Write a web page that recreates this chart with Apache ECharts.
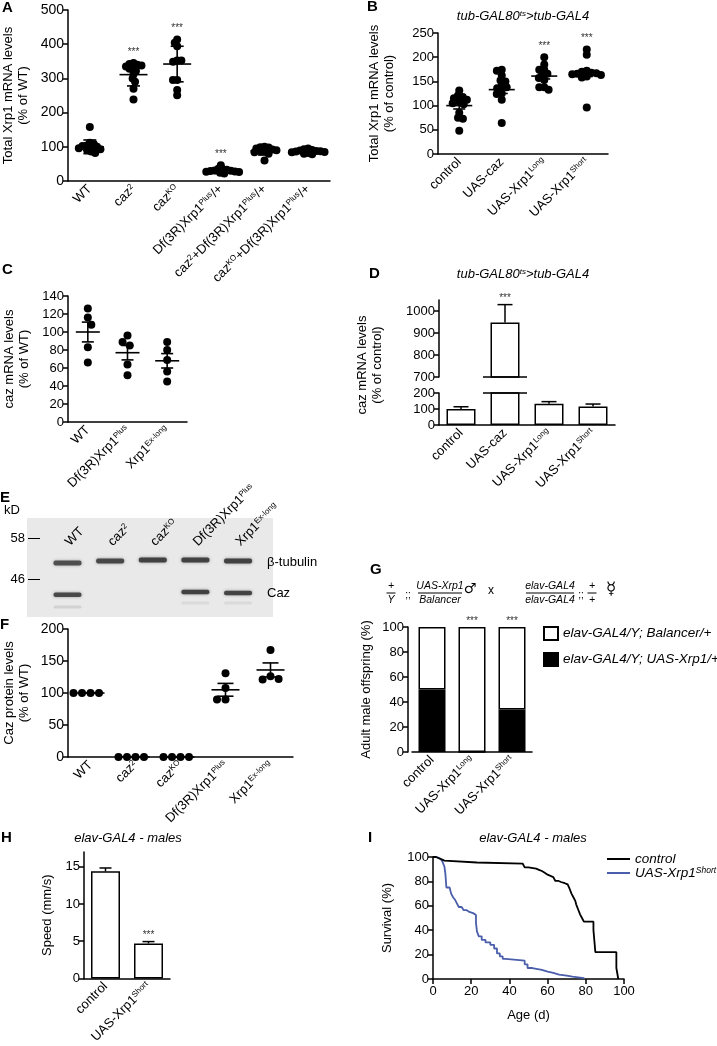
<!DOCTYPE html>
<html>
<head>
<meta charset="utf-8">
<script src="https://cdn.jsdelivr.net/npm/echarts@6.0.0/dist/echarts.min.js"></script>
<style>
html,body{margin:0;padding:0;background:#fff;}
#chart{width:717px;height:1046px;}
</style>
</head>
<body>
<div id="chart"></div>
<script>
// ===================== DATA =====================
// Panel A
const aCategories = ['WT','caz{s|2}','caz{s|KO}','Df(3R)Xrp1{s|Plus}/+','caz{s|2}+Df(3R)Xrp1{s|Plus}/+','caz{s|KO}+Df(3R)Xrp1{s|Plus}/+'];
const aValues = [
  [158,112,108,104,102,100,98,96,93,90,86,82],
  [345,342,340,338,335,332,328,322,312,300,290,270,238],
  [414,404,394,352,352,349,295,295,266,251],
  [46,36,34,33,31,30,29,28,27,26,24,22],
  [100,99,98,95,92,90,88,86,84,80,60],
  [95,93,91,89,88,87,86,85,84,82,80,78]
];
const aMean = [100,311,342,30,88,85];
const aError = [20,33,52,8,12,7];
const aSignificance = ['','***','***','***','',''];
const aTicks = [0,100,200,300,400,500];

// Panel B
const bCategories = ['control','UAS-caz','UAS-Xrp1{s|Long}','UAS-Xrp1{s|Short}'];
const bValues = [
  [131,121,118,115,112,108,105,103,85,75,73,48],
  [174,172,162,152,150,140,138,136,125,124,112,64],
  [200,185,174,174,166,164,157,153,138,138,133],
  [216,205,172,170,168,167,166,165,163,160,158,96]
];
const bMean = [100,133,161,167];
const bError = [7,8,6,7];
const bSignificance = ['','','***','***'];
const bTicks = [0,50,100,150,200,250];

// Panel C
const cCategories = ['WT','Df(3R)Xrp1{s|Plus}','Xrp1{s|Ex-long}'];
const cValues = [[126,116,108,83,66],[96,89,85,64,52],[89,80,69,56,45]];
const cMean = [100,77,68];
const cError = [11,8,8];
const cSignificance = ['','',''];
const cTicks = [0,20,40,60,80,100,120,140];

// Panel D
const dCategories = ['control','UAS-caz','UAS-Xrp1{s|Long}','UAS-Xrp1{s|Short}'];
const dMean = [100,948,133,116];
const dError = [14,81,13,15];
const dSignificance = ['','***','',''];
const dTicksLow = [0,100,200];
const dTicksHigh = [700,800,900,1000];

// Panel E (western blot)
const eLanes = ['WT','caz{s|2}','caz{s|KO}','Df(3R)Xrp1{s|Plus}','Xrp1{s|Ex-long}'];
const eMarkersKD = [46,58];
const eTubulinKD = [50.7,51.3,51.6,51.6,51.3];
const eTubulinIntensity = [0.8,0.85,0.9,0.9,0.9];
const eCazKD = [41.4,null,null,42.2,41.9];
const eCazIntensity = [0.85,0,0,0.9,0.88];
const eFaintKD = [37.8,null,null,39.0,39.0];
const eFaintIntensity = [0.12,0,0,0.08,0.08];

// Panel F
const fCategories = ['WT','caz{s|2}','caz{s|KO}','Df(3R)Xrp1{s|Plus}','Xrp1{s|Ex-long}'];
const fValues = [[100,100,100,100],[0,0,0,0],[0,0,0,0],[131,108,90,90],[167,126,122,121]];
const fMean = [100,0,0,105,136];
const fError = [0,0,0,10,11];
const fSignificance = ['','','','',''];
const fTicks = [0,50,100,150,200];

// Panel G
const gCategories = ['control','UAS-Xrp1{s|Long}','UAS-Xrp1{s|Short}'];
const gXrp1Percent = [50,0,34];
const gSignificance = ['','***','***'];
const gTicks = [0,20,40,60,80,100];

// Panel H
const hCategories = ['control','UAS-Xrp1{s|Short}'];
const hMean = [14.4,4.7];
const hError = [0.45,0.25];
const hSignificance = ['','***'];
const hTicks = [0,5,10,15];

// Panel I (survival, [day, % alive])
const iControl = [[0,100],[1.5,99],[3,98],[4.5,97],[6,96],[7,95.5],[23,94.5],[47,93],[48,91.5],[50,90.5],[54,89.5],[55.5,88.5],[57,87],[58.5,85.5],[60,84.5],[61.5,83.5],[63,82],[64,80.5],[65.5,79.5],[67,78.5],[69,77.5],[70.5,76],[71.5,74],[72,72],[72.5,70],[73.5,67],[74.5,64],[75,61],[76,57],[77,53],[78,50],[79,47],[84,40],[85,22],[96,9],[97,0]];
const iXrp1Short = [[0,100],[2,98.5],[4,97],[5,96],[6,92],[6.5,86],[7,75],[8.7,74],[9.5,70],[10.5,67],[11.5,65],[12.5,62],[13.5,59],[15,58],[16,56.5],[17.5,55],[19,54],[21,52.5],[22.5,46],[23,39],[24,35],[25.5,32],[27.5,30],[30,28],[32,25],[33.5,21],[35,18.5],[36.5,16.5],[38,15],[48,12],[49.5,9],[52,7.5],[57,6],[60,5],[63,3.5],[66,2.7],[70,2],[73,1.4],[76,0.8],[79,0]];
const iTicks = [0,20,40,60,80,100];

// ===================== BUILD =====================
const FONT = "'Liberation Sans', Arial, Helvetica, sans-serif";
const BLACK = '#000';
const BLUE = '#4a5eab';
const RICH = { s: { fontSize: 8, verticalAlign: 'top', fontFamily: FONT, color: BLACK } };
const RICH_IT = { s: { fontSize: 8, verticalAlign: 'top', fontFamily: FONT, color: BLACK, fontStyle: 'italic' } };

const grids = [], xAxes = [], yAxes = [], series = [];

const AXL = { show: true, onZero: false, lineStyle: { color: BLACK, width: 1.5 } };
const plainNum = v => String(v);
function yAx(gi, min, max, ticks, name, gap, extra, fs) {
  return Object.assign({
    type: 'value', gridIndex: gi, min: min, max: max,
    axisLine: AXL,
    axisTick: { show: true, length: 5, customValues: ticks, lineStyle: { color: BLACK, width: 1.5 } },
    axisLabel: { customValues: ticks, formatter: plainNum, color: BLACK, fontSize: fs || 13, margin: 4, fontFamily: FONT },
    splitLine: { show: false },
    name: name, nameLocation: 'middle', nameGap: gap, nameRotate: 90,
    nameTextStyle: { color: BLACK, fontSize: 13, fontFamily: FONT, lineHeight: 15 }
  }, extra || {});
}
function xCat(gi, cats, extra) {
  return Object.assign({
    type: 'category', gridIndex: gi, data: cats,
    axisLine: AXL, axisTick: { show: false }, splitLine: { show: false },
    axisLabel: { interval: 0, rotate: 45, color: BLACK, fontSize: 13, margin: 6, fontFamily: FONT, rich: RICH }
  }, extra || {});
}
function xHidden(gi, n) { return { type: 'value', gridIndex: gi, min: -0.5, max: n - 0.5, show: false }; }

// beeswarm layout: each dot goes to the free horizontal slot closest to the category centre
function beeswarm(vals, ppu, catPx, d) {
  const sorted = vals.slice().sort((a, b) => b - a);
  const placed = [];
  sorted.forEach(v => {
    const y = v * ppu;
    const cands = [0];
    placed.forEach(p => {
      const dy = Math.abs(p[1] - y);
      if (dy < d) { const dx = Math.sqrt(d * d - dy * dy); cands.push(p[0] + dx, p[0] - dx); }
    });
    const flip = placed.length % 2 ? 1 : -1;
    cands.sort((a, b) => (Math.abs(a) - Math.abs(b)) || flip * (a - b));
    const x = cands.find(c => placed.every(p => (p[0] - c) * (p[0] - c) + (p[1] - y) * (p[1] - y) >= d * d - 0.01));
    placed.push([x, y, v]);
  });
  return placed.map(p => [p[0] / catPx, p[2]]);
}
function meanErrRender(meanW, capW) {
  return function (params, api) {
    const x = api.value(0), m = api.value(1), lo = api.value(2), hi = api.value(3);
    const pm = api.coord([x, m]), pl = api.coord([x, lo]), ph = api.coord([x, hi]);
    const st = () => ({ stroke: BLACK, lineWidth: 1.6 });
    return { type: 'group', children: [
      { type: 'line', shape: { x1: pm[0] - meanW / 2, y1: pm[1], x2: pm[0] + meanW / 2, y2: pm[1] }, style: st() },
      { type: 'line', shape: { x1: pm[0], y1: pl[1], x2: pm[0], y2: ph[1] }, style: st() },
      { type: 'line', shape: { x1: pm[0] - capW / 2, y1: pl[1], x2: pm[0] + capW / 2, y2: pl[1] }, style: st() },
      { type: 'line', shape: { x1: pm[0] - capW / 2, y1: ph[1], x2: pm[0] + capW / 2, y2: ph[1] }, style: st() }
    ] };
  };
}
function barErrRender(capW) {
  return function (params, api) {
    const x = api.value(0);
    const pm = api.coord([x, api.value(1)]), ph = api.coord([x, api.value(2)]);
    const st = () => ({ stroke: BLACK, lineWidth: 1.5 });
    return { type: 'group', children: [
      { type: 'line', shape: { x1: pm[0], y1: pm[1], x2: pm[0], y2: ph[1] }, style: st() },
      { type: 'line', shape: { x1: pm[0] - capW / 2, y1: ph[1], x2: pm[0] + capW / 2, y2: ph[1] }, style: st() }
    ] };
  };
}
function starRender(labels, gapPx) {
  return function (params, api) {
    const p = api.coord([api.value(0), api.value(1)]);
    return { type: 'text', x: p[0], y: p[1] - gapPx,
      style: { text: labels[params.dataIndex], fill: '#333', fontSize: 10, fontFamily: FONT, textAlign: 'center', textVerticalAlign: 'bottom' } };
  };
}

function dotPanel(c) {
  const gi = grids.push(c.grid) - 1;
  xAxes.push(xCat(gi, c.cats));
  const xv = xAxes.push(xHidden(gi, c.cats.length)) - 1;
  const yi = yAxes.push(yAx(gi, c.min, c.max, c.ticks, c.name, c.nameGap, null, c.tickFont)) - 1;
  const ppu = c.grid.height / (c.max - c.min), catPx = c.grid.width / c.cats.length;
  const pts = [];
  c.values.forEach((g, i) => beeswarm(g, ppu, catPx, c.spacing).forEach(p => pts.push([i + p[0], p[1]])));
  series.push({ type: 'scatter', xAxisIndex: xv, yAxisIndex: yi, data: pts, symbolSize: 8, clip: false,
    itemStyle: { color: BLACK, opacity: 1 }, silent: true, z: 3 });
  series.push({ type: 'custom', xAxisIndex: xv, yAxisIndex: yi, silent: true, z: 4,
    data: c.mean.map((m, i) => [i, m, m - c.err[i], m + c.err[i]]), renderItem: meanErrRender(c.meanW, c.capW) });
  const sd = [], sl = [];
  c.sig.forEach((s, i) => { if (s) { sd.push([i, Math.max(Math.max.apply(null, c.values[i]), c.mean[i] + c.err[i])]); sl.push(s); } });
  if (sd.length) series.push({ type: 'custom', xAxisIndex: xv, yAxisIndex: yi, silent: true, data: sd, renderItem: starRender(sl, 6) });
}

// ---- A
dotPanel({ grid: { left: 68, top: 10, width: 262, height: 171 }, cats: aCategories, values: aValues, mean: aMean, err: aError,
  sig: aSignificance, min: 0, max: 500, ticks: aTicks, name: 'Total Xrp1 mRNA levels\n(% of WT)', nameGap: 37, meanW: 28, capW: 13, tickFont: 14, spacing: 4.2 });
// ---- B
dotPanel({ grid: { left: 438, top: 33, width: 170, height: 121 }, cats: bCategories, values: bValues, mean: bMean, err: bError,
  sig: bSignificance, min: 0, max: 250, ticks: bTicks, name: 'Total Xrp1 mRNA levels\n(% of control)', nameGap: 41, meanW: 26, capW: 12, spacing: 5 });
// ---- C
dotPanel({ grid: { left: 68, top: 296, width: 119, height: 126 }, cats: cCategories, values: cValues, mean: cMean, err: cError,
  sig: cSignificance, min: 0, max: 140, ticks: cTicks, name: 'caz mRNA levels\n(% of WT)', nameGap: 36, meanW: 24, capW: 12, spacing: 8 });
// ---- F
dotPanel({ grid: { left: 68, top: 629, width: 225, height: 128 }, cats: fCategories, values: fValues, mean: fMean, err: fError,
  sig: fSignificance, min: 0, max: 200, ticks: fTicks, name: 'Caz protein levels\n(% of WT)', nameGap: 36, meanW: 28, capW: 16, tickFont: 14, spacing: 8.5 });

// ---- D (broken axis: two grids)
(function () {
  const BAR = { color: '#fff', borderColor: BLACK, borderWidth: 1.5 };
  const lowMax = 200, highMin = 700;
  const gHi = grids.push({ left: 439, top: 300, width: 176, height: 77 }) - 1;
  const gLo = grids.push({ left: 439, top: 393, width: 176, height: 32 }) - 1;
  const xHi = xAxes.push({ type: 'category', gridIndex: gHi, data: dCategories, show: false }) - 1;
  const xLo = xAxes.push(xCat(gLo, dCategories)) - 1;
  const yHi = yAxes.push(yAx(gHi, highMin, 1050, dTicksHigh, '', 0)) - 1;
  const yLo = yAxes.push(yAx(gLo, 0, lowMax, dTicksLow, '', 0)) - 1;
  series.push({ type: 'bar', xAxisIndex: xLo, yAxisIndex: yLo, data: dMean, barWidth: 29, itemStyle: BAR, silent: true });
  series.push({ type: 'bar', xAxisIndex: xHi, yAxisIndex: yHi, data: dMean.map(v => v >= highMin ? v : '-'), barWidth: 29, itemStyle: BAR, silent: true });
  const errLo = [], errHi = [], brkLo = [], brkHi = [];
  dMean.forEach((m, i) => {
    if (m <= lowMax) errLo.push([i, m, m + dError[i]]);
    else { brkLo.push([i, lowMax]); }
    if (m >= highMin) { errHi.push([i, m, m + dError[i]]); brkHi.push([i, highMin]); }
  });
  series.push({ type: 'custom', xAxisIndex: xLo, yAxisIndex: yLo, data: errLo, renderItem: barErrRender(15), silent: true });
  series.push({ type: 'custom', xAxisIndex: xHi, yAxisIndex: yHi, data: errHi, renderItem: barErrRender(15), silent: true });
  const brk = function (params, api) {
    const p = api.coord([api.value(0), api.value(1)]);
    return { type: 'line', shape: { x1: p[0] - 22, y1: p[1], x2: p[0] + 22, y2: p[1] }, style: { stroke: BLACK, lineWidth: 1.5 } };
  };
  series.push({ type: 'custom', xAxisIndex: xLo, yAxisIndex: yLo, data: brkLo, renderItem: brk, silent: true, z: 5 });
  series.push({ type: 'custom', xAxisIndex: xHi, yAxisIndex: yHi, data: brkHi, renderItem: brk, silent: true, z: 5 });
  const sd = [], sl = [];
  dSignificance.forEach((s, i) => { if (s) { sd.push([i, dMean[i] + dError[i]]); sl.push(s); } });
  series.push({ type: 'custom', xAxisIndex: xHi, yAxisIndex: yHi, data: sd, renderItem: starRender(sl, 1), silent: true });
})();

// ---- E (blot)
(function () {
  const gE = grids.push({ left: 27, top: 518, width: 246, height: 99, show: true, backgroundColor: '#e9e9e9', borderWidth: 0 }) - 1;
  const xE = xAxes.push({ type: 'value', gridIndex: gE, min: -0.95, max: 4.82, position: 'top', offset: -28,
    axisLine: { show: false }, axisTick: { show: false }, splitLine: { show: false },
    axisLabel: { customValues: eLanes.map((_, i) => i), formatter: v => eLanes[Math.round(v)], rotate: -45, margin: 2,
      color: BLACK, fontSize: 13, fontFamily: FONT, rich: RICH } }) - 1;
  const yE = yAxes.push({ type: 'value', gridIndex: gE, min: 34.9, max: 63.9, offset: -13,
    axisLine: { show: false, onZero: false }, splitLine: { show: false },
    axisTick: { show: true, customValues: eMarkersKD, length: 12, lineStyle: { color: BLACK, width: 1 } },
    axisLabel: { customValues: eMarkersKD, color: BLACK, fontSize: 13, margin: 15, fontFamily: FONT } }) - 1;
  const bands = [];
  eTubulinKD.forEach((k, i) => { if (k != null && eTubulinIntensity[i] > 0) bands.push([i, k, eTubulinIntensity[i], 5]); });
  eCazKD.forEach((k, i) => { if (k != null && eCazIntensity[i] > 0) bands.push([i, k, eCazIntensity[i], 4.5]); });
  eFaintKD.forEach((k, i) => { if (k != null && eFaintIntensity[i] > 0) bands.push([i, k, eFaintIntensity[i], 3]); });
  series.push({ type: 'custom', xAxisIndex: xE, yAxisIndex: yE, data: bands, silent: true,
    renderItem: function (params, api) {
      const p = api.coord([api.value(0), api.value(1)]);
      const a = api.value(2), h = api.value(3);
      return { type: 'rect', shape: { x: p[0] - 14, y: p[1] - h / 2, width: 28, height: h, r: 2 },
        style: { fill: 'rgba(55,55,55,' + a + ')', shadowBlur: 3, shadowColor: 'rgba(70,70,70,' + (a * 0.7) + ')' } };
    } });
})();

// ---- G (stacked bars)
(function () {
  const gG = grids.push({ left: 412, top: 627, width: 120, height: 125 }) - 1;
  const xG = xAxes.push(xCat(gG, gCategories)) - 1;
  const yG = yAxes.push(yAx(gG, 0, 100, gTicks, 'Adult male offspring (%)', 34, { offset: 4 })) - 1;
  series.push({ type: 'bar', name: 'elav-GAL4/Y; UAS-Xrp1/+', stack: 'g', xAxisIndex: xG, yAxisIndex: yG, data: gXrp1Percent,
    barWidth: 27, itemStyle: { color: BLACK, borderColor: BLACK, borderWidth: 1.5 }, silent: true });
  series.push({ type: 'bar', name: 'elav-GAL4/Y; Balancer/+', stack: 'g', xAxisIndex: xG, yAxisIndex: yG, data: gXrp1Percent.map(v => 100 - v),
    barWidth: 27, itemStyle: { color: '#fff', borderColor: BLACK, borderWidth: 1.5 }, silent: true });
  const sd = [], sl = [];
  gSignificance.forEach((s, i) => { if (s) { sd.push([i, 100]); sl.push(s); } });
  series.push({ type: 'custom', xAxisIndex: xG, yAxisIndex: yG, data: sd, renderItem: starRender(sl, 1), silent: true });
})();

// ---- H
(function () {
  const gH = grids.push({ left: 84, top: 852, width: 86, height: 127 }) - 1;
  const xH = xAxes.push(xCat(gH, hCategories)) - 1;
  const yH = yAxes.push(yAx(gH, 0, 17, hTicks, 'Speed (mm/s)', 29)) - 1;
  series.push({ type: 'bar', xAxisIndex: xH, yAxisIndex: yH, data: hMean, barWidth: 29,
    itemStyle: { color: '#fff', borderColor: BLACK, borderWidth: 1.5 }, silent: true });
  series.push({ type: 'custom', xAxisIndex: xH, yAxisIndex: yH, data: hMean.map((m, i) => [i, m, m + hError[i]]), renderItem: barErrRender(12), silent: true });
  const sd = [], sl = [];
  hSignificance.forEach((s, i) => { if (s) { sd.push([i, hMean[i] + hError[i]]); sl.push(s); } });
  series.push({ type: 'custom', xAxisIndex: xH, yAxisIndex: yH, data: sd, renderItem: starRender(sl, 1), silent: true });
})();

// ---- I (survival)
(function () {
  const gI = grids.push({ left: 433, top: 857, width: 191, height: 122 }) - 1;
  const xI = xAxes.push({ type: 'value', gridIndex: gI, min: 0, max: 100, axisLine: AXL,
    axisTick: { show: true, length: 5, customValues: iTicks, lineStyle: { color: BLACK, width: 1.5 } },
    axisLabel: { customValues: iTicks, color: BLACK, fontSize: 13, margin: 6, fontFamily: FONT }, splitLine: { show: false },
    name: 'Age (d)', nameLocation: 'middle', nameGap: 30, nameTextStyle: { color: BLACK, fontSize: 13, fontFamily: FONT } }) - 1;
  const yI = yAxes.push(yAx(gI, 0, 100, iTicks, 'Survival (%)', 38)) - 1;
  series.push({ type: 'line', name: 'control', step: 'end', xAxisIndex: xI, yAxisIndex: yI, data: iControl, showSymbol: false, symbol: 'none',
    color: BLACK, lineStyle: { color: BLACK, width: 1.8 }, silent: true, z: 3 });
  series.push({ type: 'line', name: 'UAS-Xrp1 Short', step: 'end', xAxisIndex: xI, yAxisIndex: yI, data: iXrp1Short, showSymbol: false, symbol: 'none',
    color: BLUE, lineStyle: { color: BLUE, width: 1.8 }, silent: true, z: 2 });
})();

// ---- titles
const TSTYLE = { fontStyle: 'italic', fontWeight: 'normal', fontSize: 13, color: BLACK, fontFamily: FONT, rich: RICH_IT };
const titles = [
  { text: 'tub-GAL80{s|ts}>tub-GAL4', left: 523, top: 10, textAlign: 'center', padding: 0, textStyle: TSTYLE },
  { text: 'tub-GAL80{s|ts}>tub-GAL4', left: 523, top: 268, textAlign: 'center', padding: 0, textStyle: TSTYLE },
  { text: 'elav-GAL4 - males', left: 128, top: 832, textAlign: 'center', padding: 0, textStyle: TSTYLE },
  { text: 'elav-GAL4 - males', left: 533, top: 832, textAlign: 'center', padding: 0, textStyle: TSTYLE }
];

// ---- legends
const legends = [
  { data: ['elav-GAL4/Y; Balancer/+', 'elav-GAL4/Y; UAS-Xrp1/+'], left: 543, top: 626, orient: 'vertical', icon: 'rect',
    itemWidth: 14, itemHeight: 13, itemGap: 11, padding: 0, selectedMode: false,
    textStyle: { fontStyle: 'italic', fontSize: 13.5, color: BLACK, fontFamily: FONT } },
  { data: ['control', 'UAS-Xrp1 Short'], left: 607, top: 852, orient: 'vertical', icon: 'rect',
    itemWidth: 23, itemHeight: 2, itemGap: 0, padding: 0, selectedMode: false,
    formatter: n => n === 'control' ? 'control' : 'UAS-Xrp1{s|Short}',
    textStyle: { fontStyle: 'italic', fontSize: 13.5, color: BLACK, fontFamily: FONT,
      rich: { s: { fontSize: 8.5, fontStyle: 'italic', verticalAlign: 'top', color: BLACK, fontFamily: FONT } } } }
];

// ---- graphic text (panel letters, blot labels, cross header, D axis title)
const G = [];
function txt(x, y, text, o) {
  G.push({ type: 'text', x: x, y: y, silent: true, style: Object.assign({ text: text, fill: BLACK, fontSize: 13, fontFamily: FONT,
    textAlign: 'left', textVerticalAlign: 'middle' }, o || {}) });
}
[['A', 2, 8], ['B', 367, 7], ['C', 2, 270], ['D', 369, 274], ['E', 0, 498], ['F', 0, 625], ['G', 370, 570], ['H', 1, 838], ['I', 368, 838]]
  .forEach(l => txt(l[1], l[2], l[0], { fontSize: 15, fontWeight: 'bold' }));
txt(4, 510, 'kD');
txt(267, 562, 'β-tubulin');
txt(267, 593, 'Caz');
// D y-axis title
G.push({ type: 'text', x: 370, y: 365, rotation: Math.PI / 2, silent: true,
  style: { text: 'caz mRNA levels\n(% of control)', fill: BLACK, fontSize: 13, fontFamily: FONT, lineHeight: 15, textAlign: 'center', textVerticalAlign: 'middle' } });
// G cross header
function frac(cx, num, den, w) {
  txt(cx, 586, num, { fontStyle: 'italic', fontSize: 10.5, textAlign: 'center' });
  txt(cx, 600, den, { fontStyle: 'italic', fontSize: 10.5, textAlign: 'center' });
  G.push({ type: 'line', silent: true, shape: { x1: cx - w / 2, y1: 593, x2: cx + w / 2, y2: 593 }, style: { stroke: BLACK, lineWidth: 1 } });
}
frac(391, '+', 'Y', 9);
txt(408, 595, ';;', { fontSize: 10, textAlign: 'center' });
frac(440, 'UAS-Xrp1', 'Balancer', 44);
txt(470, 589, '♂', { fontSize: 14, textAlign: 'center', fontFamily: 'DejaVu Sans' });
txt(491, 591, 'x', { fontSize: 12, textAlign: 'center' });
frac(550, 'elav-GAL4', 'elav-GAL4', 48);
txt(581, 595, ';;', { fontSize: 10, textAlign: 'center' });
frac(592, '+', '+', 9);
txt(611, 590, '☿', { fontSize: 17, textAlign: 'center', fontFamily: 'DejaVu Sans' });

const option = {
  animation: false,
  backgroundColor: '#fff',
  textStyle: { fontFamily: FONT },
  title: titles,
  legend: legends,
  grid: grids,
  xAxis: xAxes,
  yAxis: yAxes,
  series: series,
  graphic: { elements: G }
};
const chart = echarts.init(document.getElementById('chart'));
chart.setOption(option);
</script>
</body>
</html>
